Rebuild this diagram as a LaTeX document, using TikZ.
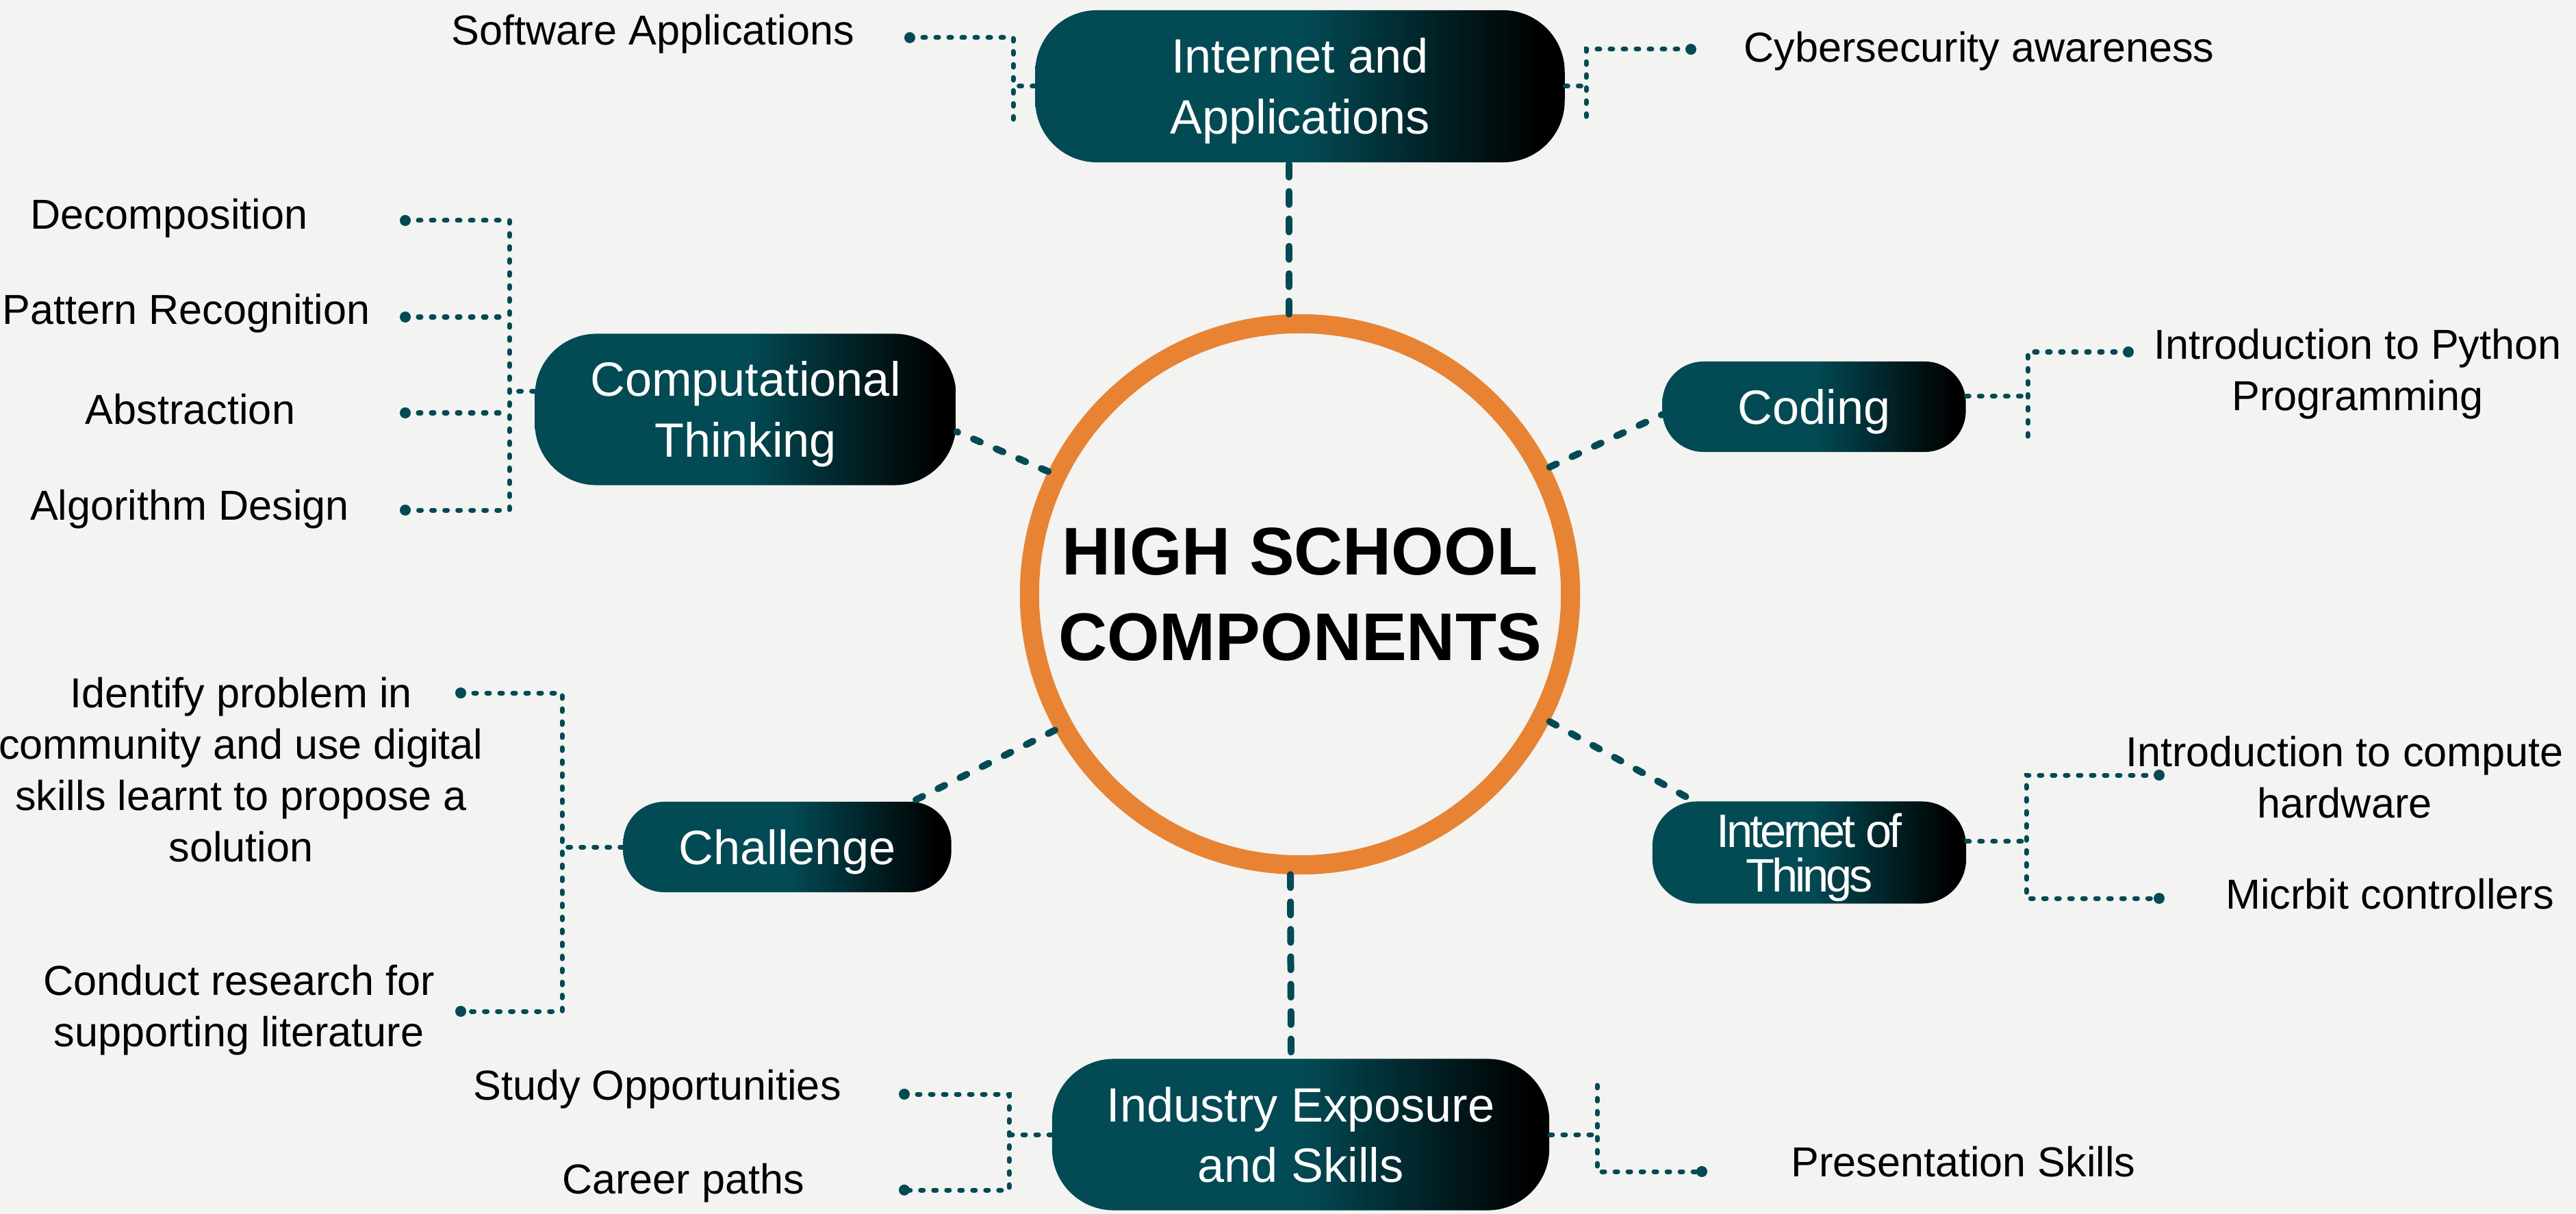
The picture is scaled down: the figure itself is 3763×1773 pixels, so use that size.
\documentclass[tikz,border=0pt]{standalone}
\usepackage{fontspec}
\setmainfont{Liberation Sans}
\usepackage{xcolor}
\usetikzlibrary{positioning,calc,backgrounds}
\definecolor{paper}{RGB}{243,243,242}
\definecolor{deepteal}{RGB}{2,75,85}
\definecolor{ringorange}{RGB}{232,131,51}
\pgfdeclarehorizontalshading{pillshade}{100bp}{color(0bp)=(deepteal); color(50bp)=(deepteal); color(73bp)=(black); color(100bp)=(black)}

\begin{document}
\begin{tikzpicture}[x=0.01cm, y=-0.01cm,
	pill/.style={shading=pillshade, rounded corners=#1, text=white, align=center, inner sep=0pt, text depth=0pt, font=\fontsize{20}{25.3}\selectfont},
	leaf/.style={align=center, inner sep=0pt, font=\fontsize{17.4}{21.3}\selectfont},
	link/.style={draw=deepteal, line width=1mm, line cap=round, dash pattern=on 1.9mm off 2.1mm},
	slant/.style={link, dash pattern=on 1.1mm off 2.5mm},
	twig/.style={draw=deepteal, line width=0.7mm, line cap=round, dash pattern=on 0.4mm off 1.5mm},
	enddot/.style={fill=deepteal}]
			\fill[paper] (0,0) rectangle (3763,1773);
			\useasboundingbox (0,0) rectangle (3763,1773);

			\node[circle, draw=ringorange, line width=2.8mm, minimum size=7.9cm, inner sep=0pt, align=center, font=\bfseries\fontsize{28}{35.6}\selectfont] (hub) at (1899,868) {HIGH SCHOOL\\COMPONENTS};

			\node[pill=0.9cm, minimum width=7.73cm, minimum height=2.22cm] (iapp) at (1899,126) {Internet and\\Applications};
			\node[pill=0.9cm, minimum width=6.15cm, minimum height=2.21cm] (ct) at (1089,598) {Computational\\Thinking};
			\node[pill=0.6cm, minimum width=4.43cm, minimum height=1.32cm] (coding) at (2650,594) {Coding};
			\node[pill=0.65cm, minimum width=4.58cm, minimum height=1.49cm, font=\fontsize{19.5}{18.6}\selectfont\addfontfeatures{LetterSpace=-6}] (iot) at (2643,1245) {Internet of\\Things};
			\node[pill=0.6cm, minimum width=4.79cm, minimum height=1.32cm] (ch) at (1150,1237) {Challenge};
			\node[pill=0.9cm, minimum width=7.26cm, minimum height=2.21cm] (ie) at (1900,1657) {Industry Exposure\\and Skills};

			\draw[link] ([xshift=-0.16cm]hub.north) -- ([xshift=-0.16cm]iapp.south);
			\draw[link] ([xshift=-0.14cm]hub.south) -- ([xshift=-0.14cm]ie.north);
			\draw[slant] (hub.154) -- (ct.-6);
			\draw[slant] (hub.27) -- (coding.183);
			\draw[slant] (hub.209) -- (ch.20);
			\draw[slant] (hub.-27) -- (iot.156);

			\node[leaf] (swapp) at (954,50) {Software Applications};
			\node[leaf] (cyber) at (2891,75) {Cybersecurity awareness};
			\coordinate (swapp-dot) at (1329,55);
			\coordinate (iapp-lbot) at (1480,180);
			\coordinate (cyber-dot) at (2470,72);
			\coordinate (iapp-rbot) at (2317,180);
			\draw[twig] (swapp-dot) -| (iapp-lbot);
			\draw[twig] (iapp.west) -- (iapp.west -| iapp-lbot);
			\draw[twig] (cyber-dot) -| (iapp-rbot);
			\draw[twig] (iapp.east) -- (iapp.east -| iapp-rbot);
			\fill[enddot] (swapp-dot) circle[radius=0.8mm];
			\fill[enddot] (cyber-dot) circle[radius=0.8mm];

			\node[leaf] (dec) at (247,319) {Decomposition};
			\node[leaf] (pat) at (272,458) {Pattern Recognition};
			\node[leaf] (abst) at (278,598) {Abstraction};
			\node[leaf] (alg) at (277,744) {Algorithm Design};
			\coordinate (dec-dot) at (592,322);
			\coordinate (pat-dot) at (592,463);
			\coordinate (abst-dot) at (592,603);
			\coordinate (alg-dot) at (592,745);
			\coordinate (ct-top) at (744,322);
			\coordinate (ct-bot) at (744,745);
			\draw[twig] (dec-dot) -- (ct-top) -- (ct-bot) -- (alg-dot);
			\draw[twig] (pat-dot) -- (pat-dot -| ct-top);
			\draw[twig] (abst-dot) -- (abst-dot -| ct-top);
			\draw[twig] (ct.175) -- (ct.175 -| ct-top);
			\fill[enddot] (dec-dot) circle[radius=0.8mm];
			\fill[enddot] (pat-dot) circle[radius=0.8mm];
			\fill[enddot] (abst-dot) circle[radius=0.8mm];
			\fill[enddot] (alg-dot) circle[radius=0.8mm];

			\node[leaf] (python) at (3444,546) {Introduction to Python\\Programming};
			\coordinate (python-dot) at (3109,514);
			\coordinate (coding-bot) at (2962,642);
			\draw[twig] (python-dot) -| (coding-bot);
			\draw[twig] (coding.4) -- (coding.4 -| coding-bot);
			\fill[enddot] (python-dot) circle[radius=0.8mm];

			\node[leaf] (hw) at (3425,1135) {Introduction to compute\\hardware};
			\node[leaf] (micro) at (3491,1306) {Micrbit controllers};
			\coordinate (hw-dot) at (3154,1132);
			\coordinate (micro-dot) at (3154,1312);
			\coordinate (iot-top) at (2960,1132);
			\coordinate (iot-bot) at (2960,1312);
			\draw[twig] (hw-dot) -- (iot-top) -- (iot-bot) -- (micro-dot);
			\draw[twig] (iot.4) -- (iot.4 -| iot-top);
			\fill[enddot] (hw-dot) circle[radius=0.8mm];
			\fill[enddot] (micro-dot) circle[radius=0.8mm];

			\node[leaf] (idp) at (352,1124) {Identify problem in\\community and use digital\\skills learnt to propose a\\solution};
			\node[leaf] (crl) at (349,1475) {Conduct research for\\supporting literature};
			\coordinate (idp-dot) at (673,1012);
			\coordinate (crl-dot) at (673,1477);
			\coordinate (ch-top) at (821,1012);
			\coordinate (ch-bot) at (821,1477);
			\draw[twig] (idp-dot) -- (ch-top) -- (ch-bot) -- (crl-dot);
			\draw[twig] (ch.west) -- (ch.west -| ch-top);
			\fill[enddot] (idp-dot) circle[radius=0.8mm];
			\fill[enddot] (crl-dot) circle[radius=0.8mm];

			\node[leaf] (study) at (960,1591) {Study Opportunities};
			\node[leaf] (career) at (998,1728) {Career paths};
			\node[leaf] (pres) at (2868,1697) {Presentation Skills};
			\coordinate (study-dot) at (1321,1598);
			\coordinate (career-dot) at (1321,1738);
			\coordinate (ie-ltop) at (1474,1598);
			\coordinate (ie-lbot) at (1474,1738);
			\coordinate (pres-dot) at (2486,1711);
			\coordinate (ie-rtop) at (2333,1585);
			\draw[twig] (study-dot) -- (ie-ltop) -- (ie-lbot) -- (career-dot);
			\draw[twig] (ie.west) -- (ie.west -| ie-ltop);
			\draw[twig] (ie-rtop) |- (pres-dot);
			\draw[twig] (ie.east) -- (ie.east -| ie-rtop);
			\fill[enddot] (study-dot) circle[radius=0.8mm];
			\fill[enddot] (career-dot) circle[radius=0.8mm];
			\fill[enddot] (pres-dot) circle[radius=0.8mm];
		\end{tikzpicture}
\end{document}
